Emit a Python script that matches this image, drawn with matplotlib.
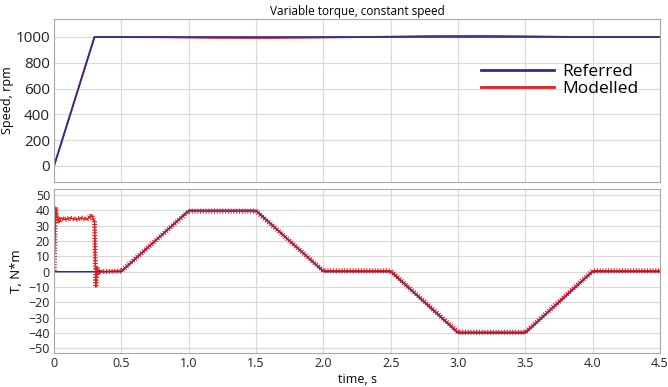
import matplotlib
matplotlib.use("Agg")
import matplotlib.pyplot as plt
import matplotlib.patheffects as pe

plt.rcParams['font.family'] = ['Open Sans', 'DejaVu Sans']

# speed, rpm
t_speed_ref = [0.0, 0.3, 4.5]
speed_ref = [0, 1000, 1000]
t_speed_mod = [0.0, 0.3, 0.8, 1.2, 1.6, 2.0, 2.4, 2.8, 3.2, 3.5, 3.8, 4.5]
speed_mod = [0, 1000, 998, 993, 992, 996, 1001, 1008, 1009, 1006, 1001, 1000]

# torque, N*m
t_torque_ref = [0.0, 0.5, 1.0, 1.5, 2.0, 2.5, 3.0, 3.5, 4.0, 4.5]
torque_ref = [0, 0, 40, 40, 0, 0, -40, -40, 0, 0]
t_torque_mod = [0.0, 0.01, 0.02, 0.035, 0.05, 0.08, 0.12, 0.16, 0.2, 0.24, 0.27, 0.28,
                0.29, 0.3, 0.31, 0.32, 0.325, 0.335, 0.35, 0.5, 1.0, 1.5, 2.0, 2.5,
                3.0, 3.5, 4.0, 4.5]
torque_mod = [0, 42, 36, 32, 35, 34, 35, 34, 35, 34, 36, 37,
              34, 33, -10, 3, -2, 1, 0, 0.5, 39.5, 39.5, 0.5, 0.5,
              -39.5, -39.5, 0.5, 0.5]

x_ticks = [0, 0.5, 1.0, 1.5, 2.0, 2.5, 3.0, 3.5, 4.0, 4.5]
x_labels = ['0', '0.5', '1.0', '1.5', '2.0', '2.5', '3.0', '3.5', '4.0', '4.5']

blue = '#2a2f8f'
red = '#e02024'
grid_c = '#d9d9d9'
spine_c = '#a8a8a8'

fig = plt.figure(figsize=(6.68, 3.87), dpi=100)
ax1 = fig.add_axes([0.081, 0.530, 0.907, 0.421])
ax2 = fig.add_axes([0.081, 0.088, 0.907, 0.424])

for ax in (ax1, ax2):
    ax.set_xlim(0, 4.5)
    ax.set_xticks(x_ticks)
    ax.grid(True, color=grid_c, linewidth=0.8)
    ax.set_axisbelow(True)
    for s in ax.spines.values():
        s.set_color(spine_c)
    ax.tick_params(length=0, colors='#222222')

# top: speed
ax1.plot(t_speed_mod, speed_mod, color=red, linewidth=1.3, label='Modelled')
ax1.plot(t_speed_ref, speed_ref, color=blue, linewidth=1.2, label='Referred')
ax1.set_ylim(-125, 1140)
ax1.set_yticks([0, 200, 400, 600, 800, 1000])
ax1.tick_params(axis='y', labelsize=11, pad=3)
ax1.set_xticklabels([])
ax1.set_ylabel('Speed, rpm', fontsize=9)
ax1.yaxis.set_label_coords(-0.067, 0.5)
ax1.set_title('Variable torque, constant speed', fontsize=8.5, pad=3)
h, l = ax1.get_legend_handles_labels()
leg = ax1.legend(h[::-1], l[::-1], loc='upper left', bbox_to_anchor=(0.69, 0.78),
                 frameon=False, fontsize=12.5, handlelength=4.2, handletextpad=0.5,
                 labelspacing=0.05, borderpad=0)
for ln in leg.get_lines():
    ln.set_linewidth(2)

# bottom: torque
ripple = [pe.Stroke(), pe.withTickedStroke(angle=90, spacing=2.0, length=0.7),
          pe.withTickedStroke(angle=-90, spacing=2.0, length=0.7)]
ax2.plot(t_torque_ref, torque_ref, color=blue, linewidth=1.0)
ax2.plot(t_torque_mod, torque_mod, color=red, linewidth=0.8, path_effects=ripple)
ax2.plot(t_torque_ref, torque_ref, color=blue, linewidth=0.8, alpha=0.6)
ax2.set_ylim(-53, 54)
ax2.set_yticks(list(range(-50, 51, 10)))
ax2.set_xticklabels(x_labels)
ax2.tick_params(labelsize=9, pad=3)
ax2.set_ylabel('T, N*m', fontsize=9.5)
ax2.yaxis.set_label_coords(-0.052, 0.5)
ax2.set_xlabel('time, s', fontsize=9, labelpad=2)

fig.savefig('out.png', dpi=100)
